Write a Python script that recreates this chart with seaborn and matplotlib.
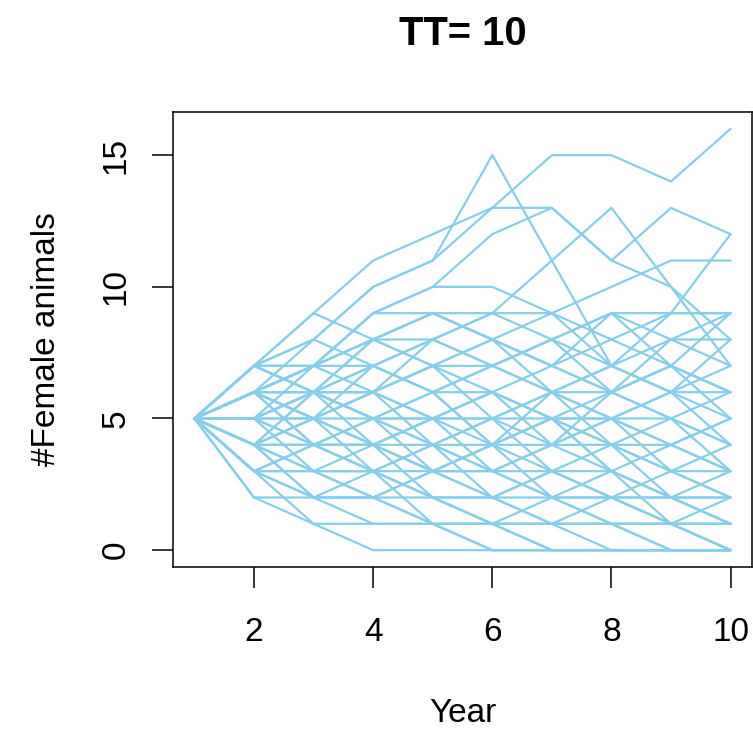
import matplotlib
matplotlib.use("Agg")
import matplotlib.pyplot as plt
import seaborn as sns
import pandas as pd

# ---- data -------------------------------------------------------------
years = [1, 2, 3, 4, 5, 6, 7, 8, 9, 10]
x_ticks = [2, 4, 6, 8, 10]
y_ticks = [0, 5, 10, 15]
title_text = "TT= 10"
x_label = "Year"
y_label = "#Female animals"

# high trajectories
high_runs = [
    [5, 7, 9, 11, 12, 13, 15, 15, 14, 16],
    [5, 7, 8, 10, 11, 13, 13, 11, 13, 12],
    [5, 6, 8, 10, 11, 15, 11, 7, 6, 4],
    [5, 7, 7, 9, 10, 12, 13, 11, 10, 8],
    [5, 6, 7, 8, 9, 9, 11, 13, 10, 7],
    [5, 6, 7, 9, 10, 10, 9, 10, 11, 11],
    [5, 6, 6, 8, 9, 8, 9, 7, 9, 12],
    [5, 7, 7, 9, 9, 8, 7, 9, 9, 9],
]
# middle trajectories
mid_runs = [
    [5, 6, 7, 7, 8, 9, 9, 8, 9, 9],
    [5, 5, 6, 8, 7, 8, 7, 6, 8, 8],
    [5, 7, 6, 7, 8, 7, 8, 9, 8, 7],
    [5, 6, 5, 7, 6, 7, 6, 5, 6, 7],
    [5, 4, 6, 6, 7, 6, 5, 6, 7, 6],
    [5, 5, 5, 6, 5, 5, 6, 7, 6, 5],
    [5, 4, 4, 5, 6, 4, 5, 4, 5, 6],
    [5, 3, 4, 5, 4, 5, 4, 5, 4, 5],
    [5, 6, 4, 4, 5, 6, 7, 6, 5, 4],
    [5, 7, 6, 6, 7, 5, 6, 4, 4, 3],
    [5, 5, 6, 4, 5, 6, 4, 5, 3, 4],
    [5, 6, 6, 5, 6, 7, 8, 6, 7, 5],
    [5, 4, 5, 6, 7, 8, 7, 8, 7, 6],
    [5, 5, 7, 8, 8, 9, 8, 7, 8, 9],
    [5, 7, 9, 8, 7, 7, 8, 9, 7, 6],
    [5, 5, 6, 7, 6, 4, 6, 5, 5, 4],
    [5, 7, 8, 7, 6, 6, 5, 5, 4, 5],
    [5, 5, 5, 4, 3, 4, 4, 6, 5, 3],
    [5, 6, 7, 6, 8, 7, 6, 7, 6, 8],
    [5, 7, 6, 5, 5, 6, 5, 5, 6, 6],
    [5, 4, 6, 5, 5, 3, 4, 4, 2, 2],
    [5, 5, 6, 5, 4, 4, 5, 3, 2, 1],
    [5, 4, 5, 4, 5, 5, 3, 2, 2, 2],
    [5, 6, 7, 8, 9, 8, 6, 6, 7, 9],
]
# low trajectories
low_runs = [
    [5, 5, 4, 3, 4, 3, 4, 3, 2, 3],
    [5, 4, 3, 4, 3, 4, 3, 2, 3, 2],
    [5, 3, 3, 2, 3, 2, 3, 4, 3, 3],
    [5, 2, 1, 1, 1, 1, 1, 2, 1, 1],
    [5, 3, 1, 0, 0, 0, 0, 0, 0, 0],
    [5, 2, 2, 2, 2, 1, 0, 0, 0, 0],
    [5, 4, 2, 2, 1, 0, 0, 0, 0, 0],
    [5, 3, 2, 3, 2, 2, 1, 1, 0, 0],
    [5, 5, 3, 3, 2, 2, 2, 1, 1, 0],
    [5, 6, 5, 5, 3, 3, 2, 2, 2, 1],
    [5, 4, 5, 3, 4, 2, 3, 3, 1, 2],
    [5, 4, 3, 2, 3, 4, 5, 3, 4, 3],
    [5, 3, 4, 4, 3, 3, 2, 3, 2, 1],
    [5, 6, 6, 6, 4, 5, 5, 4, 3, 2],
    [5, 5, 4, 4, 2, 1, 1, 0, 0, 0],
    [5, 4, 4, 3, 1, 0, 0, 0, 0, 0],
    [5, 6, 5, 4, 4, 3, 3, 2, 1, 1],
    [5, 3, 3, 3, 3, 2, 1, 1, 0, 0],
    [5, 6, 5, 6, 5, 4, 2, 2, 1, 0],
    [5, 4, 2, 1, 1, 1, 0, 0, 0, 0],
    [5, 3, 2, 2, 1, 1, 1, 1, 1, 0],
    [5, 6, 4, 3, 2, 1, 2, 1, 1, 1],
]

# ---- long-format table ------------------------------------------------
rows = []
run_id = 0
for group in (high_runs, mid_runs, low_runs):
    for run in group:
        for yr, val in zip(years, run):
            rows.append({"run": run_id, "Year": yr, "value": val})
        run_id += 1
df = pd.DataFrame(rows)

# ---- plotting ---------------------------------------------------------
sns.set_style("ticks")
plt.rcParams["font.family"] = ["Liberation Sans", "DejaVu Sans"]
plt.rcParams["text.color"] = "black"

W, H = 753, 729
fig = plt.figure(figsize=(W / 100, H / 100), dpi=100)
left, right, top, bottom = 173, 752, 112, 567
ax = fig.add_axes([left / W, 1 - bottom / H, (right - left) / W, (bottom - top) / H])

sns.lineplot(
    data=df, x="Year", y="value", units="run", estimator=None,
    color="#87CEEB", linewidth=1.6, ax=ax, legend=False,
)

ax.set_xlim(0.64, 10.36)
ax.set_ylim(-0.64, 16.64)
ax.set_xticks(x_ticks)
ax.set_yticks(y_ticks)
ax.set_xticklabels([str(t) for t in x_ticks])
ax.set_yticklabels([str(t) for t in y_ticks], rotation=90, va="center")

for s in ax.spines.values():
    s.set_visible(True)
    s.set_color("black")
    s.set_linewidth(1.1)

ax.tick_params(axis="both", length=15, width=1.1, color="black",
               labelsize=24, labelcolor="black")
ax.tick_params(axis="x", pad=21)
ax.tick_params(axis="y", pad=15)

ax.set_xlabel(x_label, fontsize=24, color="black")
ax.set_ylabel(y_label, fontsize=24, color="black")
ax.xaxis.label.set_va("center")
ax.yaxis.label.set_va("center")
ax.xaxis.set_label_coords(0.5, -(713 - bottom) / (bottom - top))
ax.yaxis.set_label_coords((47 - left) / (right - left), 0.5)

ax.set_title(title_text, fontsize=28.8, fontweight="bold", pad=48, color="black")

fig.savefig("out.png", dpi=100)
